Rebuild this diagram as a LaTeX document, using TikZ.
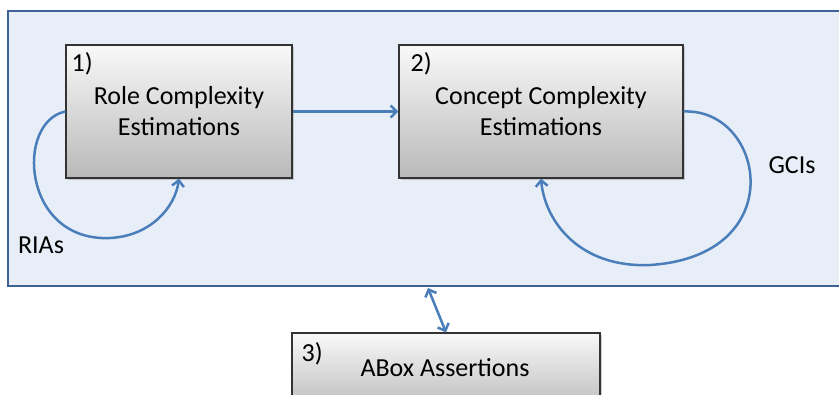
\documentclass[tikz,border=0pt]{standalone}
\usepackage{fontspec}
\setmainfont{Carlito}
\usepackage{tikz}
\usetikzlibrary{positioning,shadows,arrows.meta}

\definecolor{frameBlue}{HTML}{3F6296}
\definecolor{frameFill}{HTML}{E8EEF7}
\definecolor{lineBlue}{HTML}{4A7EBB}

\tikzset{
    stepBox/.style={draw=black!80, line width=1.2pt, top color=gray!5, bottom color=gray!55,
        minimum height=133pt, align=center, font=\fontsize{26}{31}\selectfont,
        drop shadow={shadow xshift=1.5pt, shadow yshift=-2pt, opacity=0.35}},
    numLabel/.style={anchor=north west, inner sep=0pt, font=\fontsize{26}{31}\selectfont},
    flow/.style={draw=lineBlue, line width=2.5pt, -{Straight Barb[length=6pt, width=12pt]}}
}

\begin{document}
\begin{tikzpicture}[x=1pt, y=-1pt]
    \useasboundingbox (0,0) rectangle (839,395);
    \clip (0,0) rectangle (839,395);

    % Rahmen
    \node[draw=frameBlue, fill=frameFill, line width=1.8pt, minimum width=850pt, minimum height=275pt,
          inner sep=0pt] (frame) at (433,148.5) {};

    % Schritte
    \node[stepBox, minimum width=226pt] (roleBox) at (179,111.5) {Role Complexity\\Estimations};
    \node[stepBox, minimum width=284pt] (conceptBox) at (541,111.5) {Concept Complexity\\Estimations};
    \node[stepBox, minimum width=308pt, minimum height=80pt] (aboxBox) at (446,373) {};
    \node[numLabel] (roleNum) at ([xshift=6pt, yshift=-8pt]roleBox.north west) {1)};
    \node[numLabel] (conceptNum) at ([xshift=12pt, yshift=-8pt]conceptBox.north west) {2)};
    \node[numLabel] (aboxNum) at ([xshift=10pt, yshift=-10pt]aboxBox.north west) {3)};
    \node[font=\fontsize{26}{31}\selectfont] (aboxText) at (445,368) {ABox Assertions};

    % Beschriftungen
    \node[font=\fontsize{26}{31}\selectfont] (rias) at (41,245) {RIAs};
    \node[font=\fontsize{26}{31}\selectfont] (gcis) at (792,165) {GCIs};
    \coordinate (frameBottom) at (428,288);

    % Verbindungslinien
    \draw[flow] (roleBox.east) -- (conceptBox.west);
    \draw[flow] (roleBox.west) .. controls (15,122) and (22,242) .. (110,238)
        .. controls (150,236) and (175,208) .. (roleBox.south);
    \draw[flow] (conceptBox.east) .. controls (765,108) and (792,256) .. (650,265)
        .. controls (580,268) and (545,222) .. (conceptBox.south);
    \draw[flow, {Straight Barb[length=6pt, width=12pt]}-{Straight Barb[length=6pt, width=12pt]}]
        (frameBottom) -- (aboxBox.north);
\end{tikzpicture}
\end{document}
